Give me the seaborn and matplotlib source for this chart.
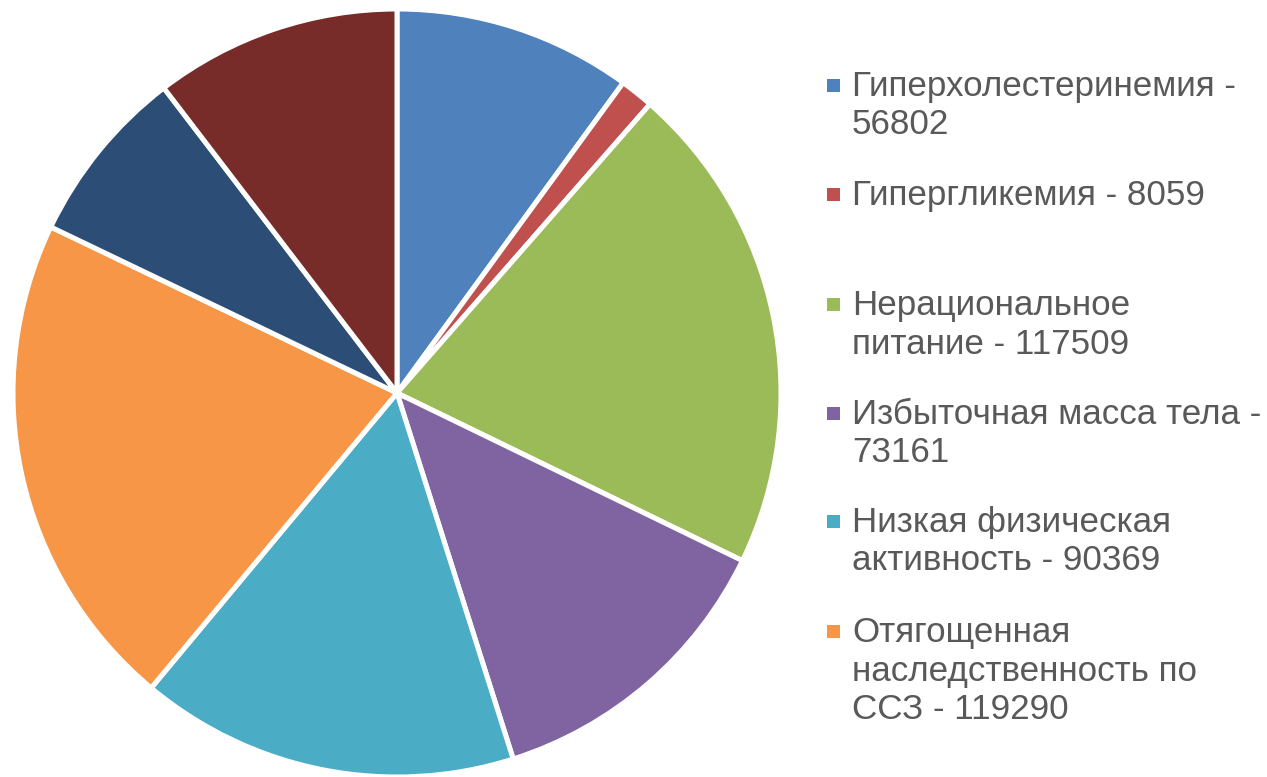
import matplotlib
matplotlib.use("Agg")
import matplotlib.pyplot as plt
import seaborn as sns
from matplotlib.patches import Rectangle

# ---- data ----
categories = ["Гиперхолестеринемия", "Гипергликемия", "Нерациональное питание",
              "Избыточная масса тела", "Низкая физическая активность",
              "Отягощенная наследственность по ССЗ", "Категория 7", "Категория 8"]
values = [56802, 8059, 117509, 73161, 90369, 119290, 42470, 58840]
colors = ["#4F81BD", "#C0504D", "#9BBB59", "#8064A2", "#4BACC6", "#F79646",
          "#2C4D75", "#772C2A"]
# legend (as displayed, cut off after six entries)
legend_labels = ["Гиперхолестеринемия -\n56802",
                 "Гипергликемия - 8059",
                 "Нерациональное\nпитание - 117509",
                 "Избыточная масса тела -\n73161",
                 "Низкая физическая\nактивность - 90369",
                 "Отягощенная\nнаследственность по\nССЗ - 119290"]

sns.set_theme(style="white")
plt.rcParams["font.family"] = ["Liberation Sans", "DejaVu Sans"]

W, H = 1267, 777
fig = plt.figure(figsize=(W / 100, H / 100), dpi=100)
fig.patch.set_facecolor("white")

cx, cy, r = 397, 393, 384
ax = fig.add_axes([(cx - r) / W, (H - cy - r) / H, 2 * r / W, 2 * r / H])
ax.pie(values, colors=colors, startangle=90, counterclock=False, radius=1,
       wedgeprops=dict(edgecolor="white", linewidth=3.6, joinstyle="miter"))
ax.set_xlim(-1.0, 1.0)
ax.set_ylim(-1.0, 1.0)
ax.set_aspect("equal")
ax.axis("off")

# legend drawn manually to match layout
tx = 852
sq_x = 827
sq = 13
line_h = 38.5
baselines = [96, 205, 315, 424, 532, 642]
for lab, col, b0 in zip(legend_labels, colors, baselines):
    yc = b0 - 11
    fig.patches.append(Rectangle((sq_x / W, (H - yc - sq / 2) / H), sq / W, sq / H,
                                 transform=fig.transFigure, facecolor=col,
                                 edgecolor="none"))
    for i, line in enumerate(lab.split("\n")):
        yy = b0 + i * line_h
        fig.text(tx / W, (H - yy) / H, line, fontsize=25.2, color="#595959",
                 va="baseline", ha="left")

fig.savefig("out.png", dpi=100, facecolor="white")
